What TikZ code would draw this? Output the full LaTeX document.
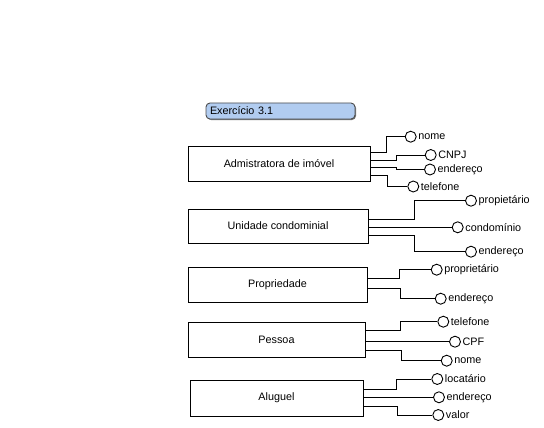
\documentclass[tikz,border=0pt]{standalone}
\usepackage{fontspec}
\setmainfont{Liberation Sans}
\usetikzlibrary{positioning,shadows}
\definecolor{azulclaro}{RGB}{177,204,240}
\tikzset{
    %Define style for entity boxes
    entidade/.style={
           rectangle,
           draw=black, line width=0.9pt,
           fill=white,
           minimum height=35,
           text centered,
           drop shadow={shadow xshift=1.2pt, shadow yshift=-1.2pt,
                        fill=black!75, opacity=1}},
    %Define style for attribute circles
    atributo/.style={
           circle,
           draw=black, line width=0.9pt,
           fill=white,
           minimum size=11,
           inner sep=0pt},
    %Define style for the title
    titulo/.style={
           rectangle,
           rounded corners=4,
           draw=black!70, line width=0.9pt,
           fill=azulclaro,
           minimum width=149,
           minimum height=16,
           inner xsep=4, inner ysep=1,
           text width=141,
           align=left,
           drop shadow={shadow xshift=1pt, shadow yshift=-1pt,
                        fill=black!55, opacity=1}},
    % Define connector style
    liga/.style={
           line width=0.9pt}
}
\begin{document}
\begin{tikzpicture}[x=1pt,y=-1pt,font=\fontsize{10.8}{12}\selectfont,
    every label/.append style={inner sep=1.5pt}]
\useasboundingbox (0,0) rectangle (544,428);
 %title
\node[titulo] (tit) at (280.5,111) {Exercício 3.1};
 %entities
\node[entidade, minimum width=182] (adm) at (279,163.5) {Admistratora de imóvel};
\node[entidade, minimum width=180, minimum height=34] (uni) at (278,226) {Unidade condominial};
\node[entidade, minimum width=179] (pro) at (277.5,284.5) {Propriedade};
\node[entidade, minimum width=177] (pes) at (276.5,339.5) {Pessoa};
\node[entidade, minimum width=173, minimum height=36] (alu) at (276.5,398) {Aluguel};
 %attributes
\node[atributo, label=right:nome] (adm-nome) at (410.7,136.7) {};
\node[atributo, label=right:CNPJ] (adm-cnpj) at (430.7,155) {};
\node[atributo, label=right:endereço] (adm-end) at (430,169.5) {};
\node[atributo, label=right:telefone] (adm-tel) at (413.3,186.5) {};

\node[atributo, label=right:propietário] (uni-prop) at (471,200.7) {};
\node[atributo, label=right:condomínio] (uni-cond) at (457.7,227.3) {};
\node[atributo, label=right:endereço] (uni-end) at (471,251.7) {};

\node[atributo, label=right:proprietário] (pro-prop) at (436.7,269.7) {};
\node[atributo, label=right:endereço] (pro-end) at (440.7,298.7) {};

\node[atributo, label=right:telefone] (pes-tel) at (443.3,321.7) {};
\node[atributo, label=right:CPF] (pes-cpf) at (455,341.7) {};
\node[atributo, label=right:nome] (pes-nome) at (446.7,360.7) {};

\node[atributo, label=right:locatário] (alu-loc) at (437.3,379) {};
\node[atributo, label=right:endereço] (alu-end) at (439,397.3) {};
\node[atributo, label=right:valor] (alu-val) at (438.3,415) {};
 %connectors
\draw[liga] (adm.east) ++(0,-10.8) -- ++(15.7,0) |- (adm-nome);
\draw[liga] (adm.east) ++(0,-2.8) -- ++(26,0) |- (adm-cnpj);
\draw[liga] (adm.east) ++(0,3.8) -- ++(26,0) |- (adm-end);
\draw[liga] (adm.east) ++(0,11.5) -- ++(16.7,0) |- (adm-tel);

\draw[liga] (uni.east) ++(0,-7) -- ++(46.3,0) |- (uni-prop);
\draw[liga] (uni.east) ++(0,1.3) -- (uni-cond);
\draw[liga] (uni.east) ++(0,9.7) -- ++(46.3,0) |- (uni-end);

\draw[liga] (pro.east) ++(0,-5.8) -- ++(32,0) |- (pro-prop);
\draw[liga] (pro.east) ++(0,4.2) -- ++(33,0) |- (pro-end);

\draw[liga] (pes.east) ++(0,-8.8) -- ++(35,0) |- (pes-tel);
\draw[liga] (pes.east) ++(0,2.2) -- (pes-cpf);
\draw[liga] (pes.east) ++(0,10.5) -- ++(36,0) |- (pes-nome);

\draw[liga] (alu.east) ++(0,-9) -- ++(33,0) |- (alu-loc);
\draw[liga] (alu.east) ++(0,-0.7) -- (alu-end);
\draw[liga] (alu.east) ++(0,8.7) -- ++(34.3,0) |- (alu-val);
\end{tikzpicture}
\end{document}
